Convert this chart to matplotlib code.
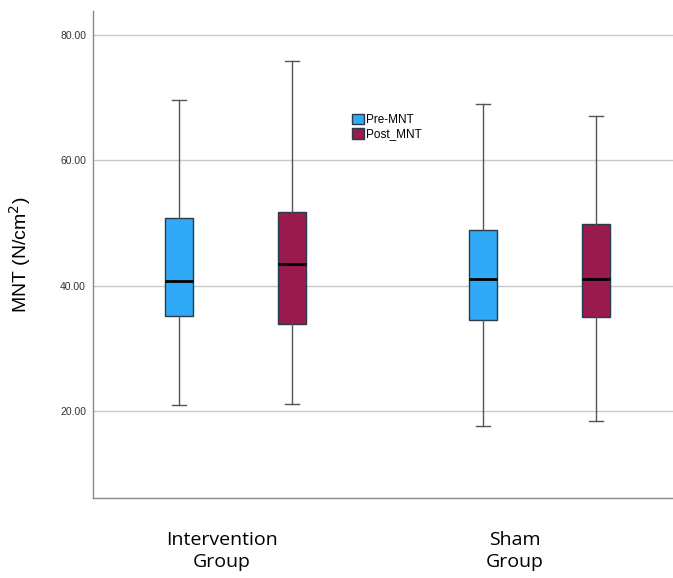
import matplotlib
matplotlib.use("Agg")
import matplotlib.pyplot as plt
from matplotlib.patches import Patch

plt.rcParams['font.family'] = ['Liberation Sans', 'DejaVu Sans']

groups = ["Intervention\nGroup", "Sham\nGroup"]
series = ["Pre-MNT", "Post_MNT"]
colors = ["#30a9f6", "#991a4c"]

# per group: [Pre, Post] -> (whislo, q1, med, q3, whishi)
stats_vals = {
    "Intervention\nGroup": [(21.0, 35.2, 40.8, 50.8, 69.6), (21.1, 33.9, 43.5, 51.7, 75.9)],
    "Sham\nGroup": [(17.6, 34.5, 41.0, 48.9, 68.9), (18.4, 35.0, 41.1, 49.8, 67.1)],
}
yticks = [20, 40, 60, 80]

fig = plt.figure(figsize=(6.73, 5.78), dpi=100)
ax = fig.add_axes([93 / 673, 80 / 578, 580 / 673, 487 / 578])

d = 0.1856
for gi, g in enumerate(groups):
    for si in range(2):
        lo, q1, med, q3, hi = stats_vals[g][si]
        st = dict(whislo=lo, q1=q1, med=med, q3=q3, whishi=hi, fliers=[])
        pos = gi + 1 + (-d if si == 0 else d)
        ax.bxp([st], positions=[pos], widths=0.092, capwidths=0.046,
               patch_artist=True, showfliers=False,
               boxprops=dict(facecolor=colors[si], edgecolor="#2b3a4a", linewidth=1.0),
               medianprops=dict(color="black", linewidth=2.0),
               whiskerprops=dict(color="#555555", linewidth=1.0),
               capprops=dict(color="#555555", linewidth=1.0),
               zorder=3)

ax.set_xlim(0.532, 2.437)
ax.set_ylim(6.1, 83.8)
ax.set_yticks(yticks)
ax.set_yticklabels(["%.2f" % v for v in yticks], fontsize=7.5, color="#333333")
ax.yaxis.grid(True, color="#c8c8c8", linewidth=1.0, zorder=0)
ax.set_axisbelow(True)
ax.tick_params(axis="y", length=0, pad=5)
ax.tick_params(axis="x", length=0)
for s in ["top", "right"]:
    ax.spines[s].set_visible(False)
for s in ["left", "bottom"]:
    ax.spines[s].set_color("#888888")
    ax.spines[s].set_linewidth(1.0)

ax.set_xticks([0.956, 1.918])
ax.set_xticklabels(groups, fontsize=14, linespacing=1.25, family=["Open Sans", "DejaVu Sans"])
ax.tick_params(axis="x", pad=24)

ax.set_ylabel("MNT (N/cm$^2$)", fontsize=14)
ax.yaxis.set_label_coords(-0.103, 0.5)

handles = [Patch(facecolor=c, edgecolor="#2b3a4a", label=l) for c, l in zip(colors, series)]
fig.legend(handles=handles, loc="upper left", bbox_to_anchor=(346 / 673, 1 - 108 / 578),
           frameon=False, fontsize=8.5, handlelength=1.0, handleheight=1.0,
           handletextpad=0.2, labelspacing=0.15, borderpad=0)

fig.savefig("out.png", dpi=100)
